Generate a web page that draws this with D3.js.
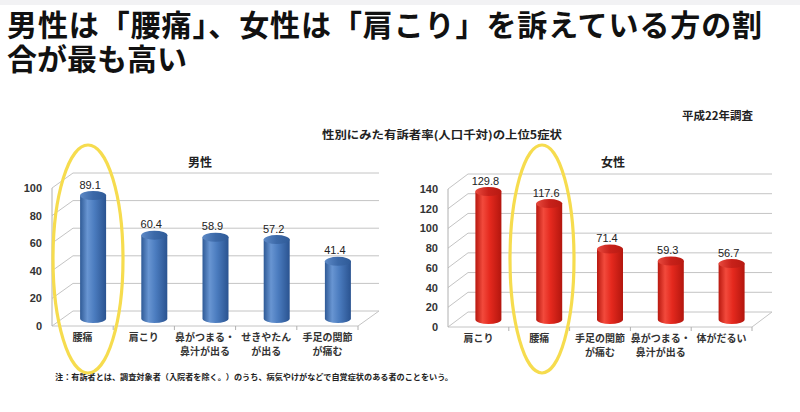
<!DOCTYPE html>
<html><head><meta charset="utf-8">
<script src="https://cdn.jsdelivr.net/npm/d3@7"></script>
<style>
body{margin:0;background:#fff;position:relative;width:800px;height:412px;overflow:hidden}
svg{display:block;position:absolute;left:0;top:0}
#title{position:absolute;left:7px;top:8.6px;font-family:'Liberation Sans','Noto Sans CJK JP',sans-serif;font-weight:700;font-size:30px;line-height:34px;color:#111;white-space:nowrap;z-index:2}
#title div:first-child{letter-spacing:0.9px}
</style>
</head><body>
<script>
// ---- data ----
const maleCategories = ["腰痛", "肩こり", "鼻がつまる・\n鼻汁が出る", "せきやたん\nが出る", "手足の関節\nが痛む"];
const maleValues = [89.1, 60.4, 58.9, 57.2, 41.4];
const maleTicks = [0, 20, 40, 60, 80, 100];
const femaleCategories = ["肩こり", "腰痛", "手足の関節\nが痛む", "鼻がつまる・\n鼻汁が出る", "体がだるい"];
const femaleValues = [129.8, 117.6, 71.4, 59.3, 56.7];
const femaleTicks = [0, 20, 40, 60, 80, 100, 120, 140];
const titleLines = ["男性は「腰痛」、女性は「肩こり」を訴えている方の割", "合が最も高い"];
const chartTitle = "性別にみた有訴者率(人口千対)の上位5症状";
const surveyLabel = "平成22年調査";
const noteText = "注：有訴者とは、調査対象者（入院者を除く。）のうち、病気やけがなどで自覚症状のある者のことをいう。";

const W = 800, H = 412;
const JP = "'Noto Sans CJK JP','Noto Sans',sans-serif";
const svg = d3.select("body").append("svg").attr("width", W).attr("height", H);
svg.append("rect").attr("width", W).attr("height", H).attr("fill", "#fff");
svg.append("rect").attr("width", W).attr("height", 5).attr("fill", "#f2f2f4");

// title as HTML (two lines)
const td = d3.select("body").append("div").attr("id", "title");
titleLines.forEach(t => td.append("div").text(t));

const defs = svg.append("defs");
function grad(id, stops) {
  const g = defs.append("linearGradient").attr("id", id).attr("x1", "0").attr("x2", "1").attr("y1", "0").attr("y2", "0");
  stops.forEach(s => g.append("stop").attr("offset", s[0]).attr("stop-color", s[1]));
}
grad("blueBody", [[0, "#2f5a96"], [0.28, "#6895d2"], [0.55, "#4b7cbf"], [1, "#2a5390"]]);
grad("blueTop", [[0, "#5d89c6"], [0.5, "#3c69a8"], [1, "#2f5b98"]]);
grad("redBody", [[0, "#b8180f"], [0.28, "#f24a3c"], [0.55, "#e5291e"], [1, "#b3160e"]]);
grad("redTop", [[0, "#e84a3e"], [0.5, "#c8211a"], [1, "#b81a12"]]);

svg.append("text").attr("x", 322).attr("y", 139).text(chartTitle)
  .attr("font-family", JP).attr("font-weight", 700).attr("font-size", 11).attr("fill", "#222")
  .attr("textLength", 240).attr("lengthAdjust", "spacingAndGlyphs");
svg.append("text").attr("x", 682).attr("y", 120).text(surveyLabel)
  .attr("font-family", JP).attr("font-weight", 700).attr("font-size", 11).attr("fill", "#222")
  .attr("textLength", 71).attr("lengthAdjust", "spacingAndGlyphs");
svg.append("text").attr("x", 55).attr("y", 380).text(noteText)
  .attr("font-family", JP).attr("font-weight", 700).attr("font-size", 8).attr("fill", "#222")
  .attr("textLength", 398).attr("lengthAdjust", "spacingAndGlyphs");

function chart(o) {
  const g = svg.append("g");
  const y = d3.scaleLinear().domain([0, o.max]).range([o.y0, o.yTop]);
  const x = d3.scaleBand().domain(o.cats).range([o.x0, o.x1]).padding(0);
  const dx = o.dx, dy = o.dy;
  const grid = "#c4c4c4";
  o.ticks.forEach(t => {
    const yy = y(t);
    g.append("line").attr("x1", o.x0).attr("y1", yy).attr("x2", o.x0 + dx).attr("y2", yy + dy).attr("stroke", grid);
    g.append("line").attr("x1", o.x0 + dx).attr("y1", yy + dy).attr("x2", o.x1 + dx).attr("y2", yy + dy).attr("stroke", grid);
  });
  g.append("line").attr("x1", o.x0).attr("y1", o.y0).attr("x2", o.x1).attr("y2", o.y0).attr("stroke", grid);
  g.append("line").attr("x1", o.x1).attr("y1", o.y0).attr("x2", o.x1 + dx).attr("y2", o.y0 + dy).attr("stroke", grid);
  g.append("line").attr("x1", o.x0).attr("y1", o.y0).attr("x2", o.x0).attr("y2", y(o.max)).attr("stroke", "#b0b0b0");
  o.cats.forEach(c => {
    const xx = x(c) + x.bandwidth();
    g.append("line").attr("x1", xx).attr("y1", o.y0).attr("x2", xx).attr("y2", o.y0 + 4).attr("stroke", "#b0b0b0");
  });
  const ax = g.append("g").attr("transform", `translate(${o.x0 - 8},0)`)
    .call(d3.axisLeft(y).tickValues(o.ticks).tickSize(0).tickPadding(2));
  ax.select(".domain").remove();
  ax.selectAll("text").attr("font-family", "'Liberation Sans',Arial,sans-serif").attr("font-size", 11)
    .attr("font-weight", 700).attr("fill", "#333");
  const rx = 13, ry = 4.5;
  o.cats.forEach((c, i) => {
    const v = o.vals[i];
    const cx = x(c) + x.bandwidth() / 2 + dx / 2;
    const yb = o.y0 + dy / 2;
    const yt = y(v) + dy / 2;
    g.append("path")
      .attr("d", `M${cx - rx},${yt} L${cx - rx},${yb} A${rx},${ry} 0 0 0 ${cx + rx},${yb} L${cx + rx},${yt} Z`)
      .attr("fill", `url(#${o.color}Body)`);
    g.append("ellipse").attr("cx", cx).attr("cy", yt).attr("rx", rx).attr("ry", ry)
      .attr("fill", `url(#${o.color}Top)`);
    g.append("text").attr("x", cx - 3).attr("y", yt - 7).attr("text-anchor", "middle").text(v.toFixed(1))
      .attr("font-family", "'Liberation Sans',Arial,sans-serif").attr("font-size", 11).attr("fill", "#222");
    const lines = c.split("\n");
    lines.forEach((ln, j) => {
      g.append("text").attr("x", x(c) + x.bandwidth() / 2).attr("y", o.y0 + 15 + j * 14)
        .attr("text-anchor", "middle").text(ln)
        .attr("font-family", JP).attr("font-weight", 700).attr("font-size", 10).attr("fill", "#333");
    });
  });
  g.append("text").attr("x", o.titleX).attr("y", 167).attr("text-anchor", "middle").text(o.title)
    .attr("font-family", JP).attr("font-weight", 700).attr("font-size", 12).attr("fill", "#222");
  svg.append("ellipse").attr("cx", o.hx).attr("cy", 259).attr("rx", o.hrx).attr("ry", 114)
    .attr("fill", "none").attr("stroke", "#f6dc4e").attr("stroke-width", 3.2);
}

chart({cats: maleCategories, vals: maleValues, ticks: maleTicks, max: 100,
  x0: 52, x1: 358, y0: 326, yTop: 188, dx: 21, dy: -15, color: "blue",
  title: "男性", titleX: 200, hx: 88, hrx: 35});
chart({cats: femaleCategories, vals: femaleValues, ticks: femaleTicks, max: 140,
  x0: 448, x1: 752, y0: 327, yTop: 189, dx: 20, dy: -15, color: "red",
  title: "女性", titleX: 613, hx: 542, hrx: 32});
</script>
</body></html>
